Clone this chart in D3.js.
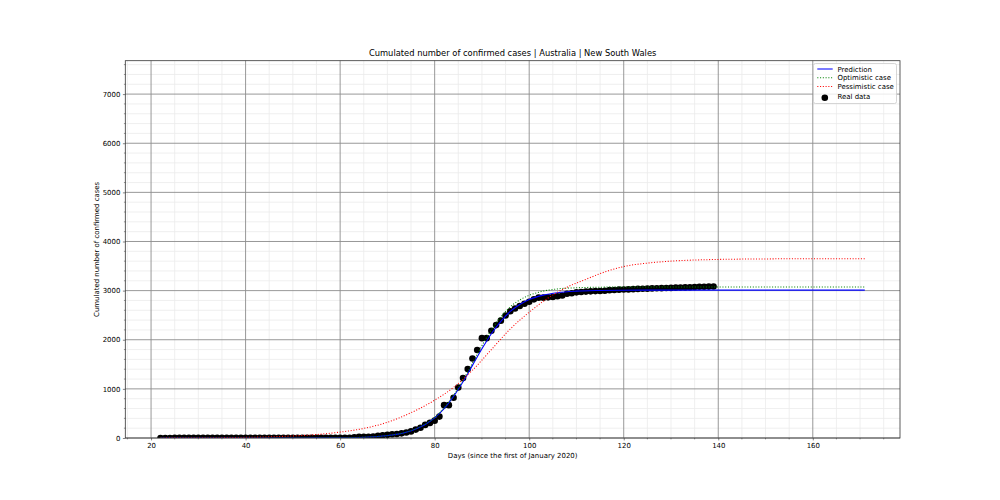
<!DOCTYPE html>
<html><head><meta charset="utf-8">
<script src="https://cdn.jsdelivr.net/npm/d3@7"></script>
<style>body{margin:0;background:#fff} text{font-family:"DejaVu Sans",sans-serif;fill:#000}</style>
</head><body><svg id="c" width="1000" height="500"></svg>
<script>
// ---- data ----
const title = "Cumulated number of confirmed cases | Australia | New South Wales";
const xLabel = "Days (since the first of January 2020)";
const yLabel = "Cumulated number of confirmed cases";
const xTicks = [20, 40, 60, 80, 100, 120, 140, 160];
const yTicks = [0, 1000, 2000, 3000, 4000, 5000, 6000, 7000];
const legendLabels = ["Prediction", "Optimistic case", "Pessimistic case", "Real data"];

const realDays = [22,23,24,25,26,27,28,29,30,31,32,33,34,35,36,37,38,39,40,41,42,43,44,45,46,47,48,49,50,
  51,52,53,54,55,56,57,58,59,60,61,62,63,64,65,66,67,68,69,70,71,72,73,74,75,76,77,78,79,80,
  81,82,83,84,85,86,87,88,89,90,91,92,93,94,95,96,97,98,99,100,101,102,103,104,105,106,107,108,109,110,
  111,112,113,114,115,116,117,118,119,120,121,122,123,124,125,126,127,128,129,130,131,132,133,134,135,136,137,138,139];
const realCases = [0,0,0,3,4,4,4,4,4,4,4,4,4,4,4,4,4,4,4,4,4,4,4,4,4,4,4,4,4,
  4,4,4,4,4,4,4,4,4,4,6,6,13,22,22,26,28,45,55,65,75,80,95,112,134,171,210,267,307,353,
  436,669,669,818,1029,1219,1405,1617,1791,2032,2032,2182,2298,2389,2493,2580,2637,2686,2734,2773,2822,2857,2857,2863,2870,2886,2900,2935,2945,2965,
  2972,2980,2985,2990,2992,2998,3010,3012,3020,3022,3025,3030,3035,3037,3040,3045,3047,3050,3052,3055,3060,3062,3065,3070,3075,3078,3080,3082,3083];

const predDays = [22,40,50,55,60,65,68,71,74,76,78,80,82,84,86,88,90,92,94,96,98,100,103,106,110,115,120,130,150,171];
const predCases = [0,0,1,2,5,16,31,60,117,182,275,409,596,846,1144,1478,1815,2122,2375,2576,2718,2818,2908,2958,2989,3003,3008,3010,3010,3010];
const optCases  = [0,0,1,2,5,16,32,62,120,187,282,420,612,870,1178,1525,1878,2200,2465,2670,2810,2905,2990,3035,3058,3070,3074,3075,3075,3075];

const pessDays  = [22,30,40,45,50,55,60,65,70,75,80,84,88,92,96,100,104,108,112,116,120,125,130,140,150,160,171];
const pessCases = [2,4,13,24,42,70,120,195,320,515,770,1030,1380,1800,2220,2560,2850,3070,3230,3380,3490,3560,3600,3635,3645,3650,3650];

// ---- layout ----
const svg = d3.select("#c");
const L = 125.3, R = 900, T = 60.7, B = 438;
const x = d3.scaleLinear().domain([14.55, 178.45]).range([L, R]);
const y = d3.scaleLinear().domain([0, 7680]).range([B, T]);

// white bg
svg.append("rect").attr("width",1000).attr("height",500).attr("fill","#fff");

// minor grid
const xMinor = d3.range(15, 179, 5).filter(v => v % 20 !== 0);
const yMinor = d3.range(200, 7680, 200).filter(v => v % 1000 !== 0);
const g = svg.append("g");
g.selectAll(".xm").data(xMinor).enter().append("line")
  .attr("x1", d=>x(d)).attr("x2", d=>x(d)).attr("y1", T).attr("y2", B)
  .attr("stroke","#ebebeb").attr("stroke-width",0.8);
g.selectAll(".ym").data(yMinor).enter().append("line")
  .attr("y1", d=>y(d)).attr("y2", d=>y(d)).attr("x1", L).attr("x2", R)
  .attr("stroke","#ebebeb").attr("stroke-width",0.8);
// major grid
g.selectAll(".xg").data(xTicks).enter().append("line")
  .attr("x1", d=>x(d)).attr("x2", d=>x(d)).attr("y1", T).attr("y2", B)
  .attr("stroke","#8c8c8c").attr("stroke-width",0.9);
g.selectAll(".yg").data(yTicks).enter().append("line")
  .attr("y1", d=>y(d)).attr("y2", d=>y(d)).attr("x1", L).attr("x2", R)
  .attr("stroke","#8c8c8c").attr("stroke-width",0.9);

// clip
svg.append("clipPath").attr("id","clip").append("rect")
  .attr("x",L).attr("y",T).attr("width",R-L).attr("height",B-T);
const plot = svg.append("g").attr("clip-path","url(#clip)");

// real data points
plot.selectAll(".pt").data(realDays.map((d,i)=>[d, realCases[i]])).enter().append("circle")
  .attr("cx", d=>x(d[0])).attr("cy", d=>y(d[1])).attr("r", 3.3).attr("fill","#000");

const line = d3.line().x(d=>x(d[0])).y(d=>y(d[1])).curve(d3.curveMonotoneX);
plot.append("path").datum(predDays.map((d,i)=>[d, predCases[i]]))
  .attr("d", line).attr("fill","none").attr("stroke","#0000ff").attr("stroke-width",1.1);
plot.append("path").datum(predDays.map((d,i)=>[d, optCases[i]]))
  .attr("d", line).attr("fill","none").attr("stroke","#008000").attr("stroke-width",1.04)
  .attr("stroke-dasharray","1.04,1.72");
plot.append("path").datum(pessDays.map((d,i)=>[d, pessCases[i]]))
  .attr("d", line).attr("fill","none").attr("stroke","#ff0000").attr("stroke-width",1.04)
  .attr("stroke-dasharray","1.04,1.72");

// axes
const fs = 6.94;
const xAxis = svg.append("g").attr("transform",`translate(0,${B})`)
  .call(d3.axisBottom(x).tickValues(xTicks).tickSize(2.4).tickPadding(2.6).tickFormat(d3.format("d")));
const yAxis = svg.append("g").attr("transform",`translate(${L},0)`)
  .call(d3.axisLeft(y).tickValues(yTicks).tickSize(2.4).tickPadding(2.6).tickFormat(d3.format("d")));
[xAxis, yAxis].forEach(a => {
  a.select(".domain").remove();
  a.selectAll("line").attr("stroke","#333").attr("stroke-width",0.6);
  a.selectAll("text").attr("font-size", fs).attr("font-family","DejaVu Sans").attr("fill","#000");
});
// minor ticks
svg.append("g").selectAll("line").data(xMinor).enter().append("line")
  .attr("x1",d=>x(d)).attr("x2",d=>x(d)).attr("y1",B).attr("y2",B+1.4).attr("stroke","#333").attr("stroke-width",0.5);
svg.append("g").selectAll("line").data(yMinor).enter().append("line")
  .attr("y1",d=>y(d)).attr("y2",d=>y(d)).attr("x1",L).attr("x2",L-1.4).attr("stroke","#333").attr("stroke-width",0.5);

// spines
svg.append("rect").attr("x",L).attr("y",T).attr("width",R-L).attr("height",B-T)
  .attr("fill","none").attr("stroke","#333").attr("stroke-width",0.8);

// labels
svg.append("text").attr("x",(L+R)/2).attr("y",56.2).attr("text-anchor","middle")
  .attr("font-size",8.33).text(title);
svg.append("text").attr("x",(L+R)/2).attr("y",458.3).attr("text-anchor","middle")
  .attr("font-size",fs).text(xLabel);
svg.append("text").attr("transform",`translate(98.6,${(T+B)/2}) rotate(-90)`).attr("text-anchor","middle")
  .attr("font-size",fs).text(yLabel);

// legend
const lg = svg.append("g");
lg.append("rect").attr("x",813.5).attr("y",63.5).attr("width",83).attr("height",40).attr("rx",2)
  .attr("fill","#fff").attr("fill-opacity",0.8).attr("stroke","#cccccc").attr("stroke-width",0.8);
const rowsY = [69, 77.7, 86.4, 96.3];
const styles = [
  {c:"#0000ff", dash:null},
  {c:"#008000", dash:"1.04,1.72"},
  {c:"#ff0000", dash:"1.04,1.72"},
  null
];
legendLabels.forEach((lab,i) => {
  const yy = rowsY[i];
  if (styles[i]) {
    const ln = lg.append("line").attr("x1",817.3).attr("x2",832.7).attr("y1",yy).attr("y2",yy)
      .attr("stroke",styles[i].c).attr("stroke-width",1.04);
    if (styles[i].dash) ln.attr("stroke-dasharray",styles[i].dash);
  } else {
    lg.append("circle").attr("cx",824.8).attr("cy",yy+1.5).attr("r",3.3).attr("fill","#000");
  }
  lg.append("text").attr("x",837.5).attr("y",yy+2.5).attr("font-size",fs).text(lab);
});
</script></body></html>
